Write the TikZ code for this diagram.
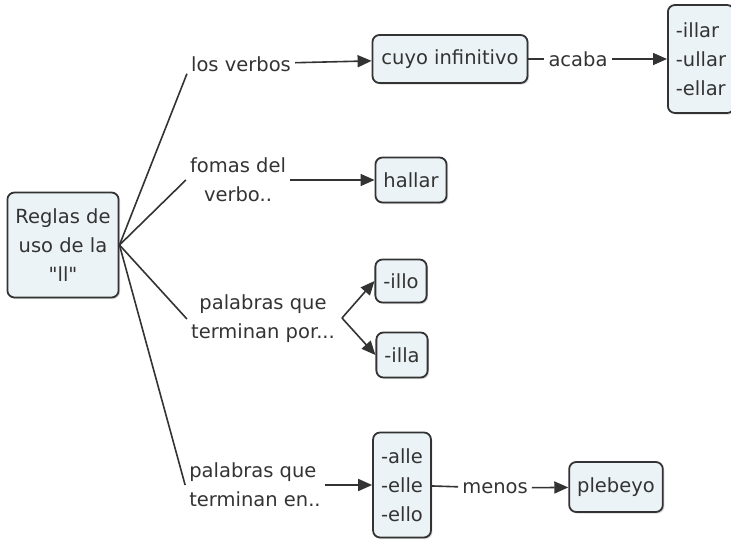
\documentclass[tikz,border=0pt]{standalone}
\usepackage{fontspec}
\setmainfont{DejaVu Sans}[Ligatures=TeXOff]
\usepackage{tikz}
\usetikzlibrary{arrows.meta,shadows}
\definecolor{boxfill}{RGB}{236,243,247}
\definecolor{ink}{RGB}{51,51,51}
\tikzset{
	concept/.style={draw=ink, fill=boxfill, line width=1.8pt, rounded corners=7pt,
		inner xsep=8pt, inner ysep=6pt, minimum height=45pt, text=ink,
		drop shadow={shadow xshift=1.5pt, shadow yshift=-1.5pt, fill=gray!60}},
	linkword/.style={inner xsep=4pt, inner ysep=2pt, text=ink},
	link/.style={color=ink, line width=1.6pt},
	arr/.style={link, -{Triangle[length=14pt,width=12pt]}}
}
\begin{document}
\begin{tikzpicture}[x=1pt, y=-1pt, font=\fontsize{19.5}{29}\selectfont]
\useasboundingbox (0,0) rectangle (731,541);
% concepts
\node[concept, align=center, minimum width=110pt, minimum height=105pt] (root) at (63,245) {Reglas de\\uso de la\\"ll"};
\node[concept, minimum width=155pt, minimum height=48pt] (cuyo) at (450,59) {cuyo infinitivo};
\node[concept, align=left, minimum height=108pt] (illar) at (701,59) {-illar\\-ullar\\-ellar};
\node[concept] (hallar) at (411,180) {hallar};
\node[concept, minimum height=43pt] (illo) at (401,281) {-illo};
\node[concept, minimum height=45pt] (illa) at (402,355) {-illa};
\node[concept, align=left, minimum height=105pt] (alle) at (402,485) {-alle\\-elle\\-ello};
\node[concept, minimum height=50pt] (plebeyo) at (616,487) {plebeyo};
% linking words
\node[linkword] (verbos) at (241,64) {los verbos};
\node[linkword] (acaba) at (578,59) {acaba};
\node[linkword, align=center] (formas) at (238,180) {fomas del\\verbo..};
\node[linkword, align=center] (por) at (263,319) {palabras que\\terminan por...};
\node[linkword, align=left] (en) at (255,485) {palabras que\\terminan en..};
\node[linkword] (menos) at (495,488) {menos};
\coordinate (fork) at (342,318);
% connections
\path[link]
(root.east) edge (verbos.south west)
(root.east) edge (formas.west)
(root.east) edge (por.west)
(root.east) edge (en.west)
(cuyo) edge (acaba)
(alle) edge (menos)
;
\path[arr]
(verbos) edge (cuyo)
(acaba) edge (illar)
(formas) edge (hallar)
(fork) edge (illo.west)
(fork) edge (illa.west)
(en) edge (alle)
(menos) edge (plebeyo)
;
\end{tikzpicture}
\end{document}
